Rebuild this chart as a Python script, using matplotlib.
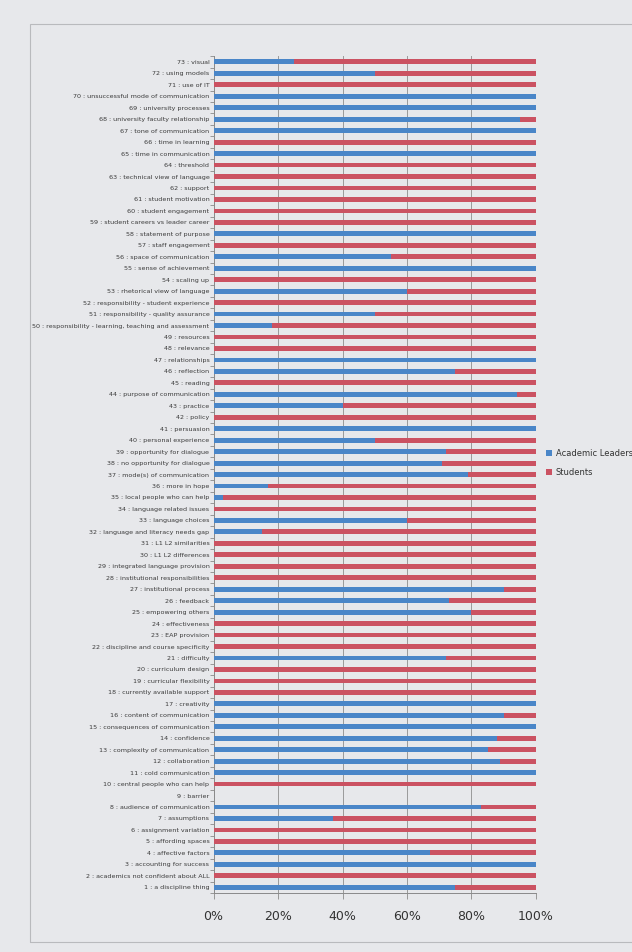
import matplotlib
matplotlib.use("Agg")
import matplotlib.pyplot as plt
from matplotlib.patches import Rectangle
import numpy as np

categories = [
    "1 : a discipline thing",
    "2 : academics not confident about ALL",
    "3 : accounting for success",
    "4 : affective factors",
    "5 : affording spaces",
    "6 : assignment variation",
    "7 : assumptions",
    "8 : audience of communication",
    "9 : barrier",
    "10 : central people who can help",
    "11 : cold communication",
    "12 : collaboration",
    "13 : complexity of communication",
    "14 : confidence",
    "15 : consequences of communication",
    "16 : content of communication",
    "17 : creativity",
    "18 : currently available support",
    "19 : curricular flexibility",
    "20 : curriculum design",
    "21 : difficulty",
    "22 : discipline and course specificity",
    "23 : EAP provision",
    "24 : effectiveness",
    "25 : empowering others",
    "26 : feedback",
    "27 : institutional process",
    "28 : institutional responsibilities",
    "29 : integrated language provision",
    "30 : L1 L2 differences",
    "31 : L1 L2 similarities",
    "32 : language and literacy needs gap",
    "33 : language choices",
    "34 : language related issues",
    "35 : local people who can help",
    "36 : more in hope",
    "37 : mode(s) of communication",
    "38 : no opportunity for dialogue",
    "39 : opportunity for dialogue",
    "40 : personal experience",
    "41 : persuasion",
    "42 : policy",
    "43 : practice",
    "44 : purpose of communication",
    "45 : reading",
    "46 : reflection",
    "47 : relationships",
    "48 : relevance",
    "49 : resources",
    "50 : responsibility - learning, teaching and assessment",
    "51 : responsibility - quality assurance",
    "52 : responsibility - student experience",
    "53 : rhetorical view of language",
    "54 : scaling up",
    "55 : sense of achievement",
    "56 : space of communication",
    "57 : staff engagement",
    "58 : statement of purpose",
    "59 : student careers vs leader career",
    "60 : student engagement",
    "61 : student motivation",
    "62 : support",
    "63 : technical view of language",
    "64 : threshold",
    "65 : time in communication",
    "66 : time in learning",
    "67 : tone of communication",
    "68 : university faculty relationship",
    "69 : university processes",
    "70 : unsuccessful mode of communication",
    "71 : use of IT",
    "72 : using models",
    "73 : visual",
]

# Share of coded references per node (percent)
academic_leaders = [
    75, 0, 100, 67, 0, 0, 37, 83, 0, 0,
    100, 89, 85, 88, 100, 90, 100, 0, 0, 0,
    72, 0, 0, 0, 80, 73, 90, 0, 0, 0,
    0, 15, 60, 0, 3, 17, 79, 71, 72, 50,
    100, 0, 40, 94, 0, 75, 100, 0, 0, 18,
    50, 0, 60, 0, 100, 55, 0, 100, 0, 0,
    0, 0, 0, 0, 100, 0, 100, 95, 100, 100,
    0, 50, 25,
]
students = [
    25, 100, 0, 33, 100, 100, 63, 17, 0, 100,
    0, 11, 15, 12, 0, 10, 0, 100, 100, 100,
    28, 100, 100, 100, 20, 27, 10, 100, 100, 100,
    100, 85, 40, 100, 97, 83, 21, 29, 28, 50,
    0, 100, 60, 6, 100, 25, 0, 100, 100, 82,
    50, 100, 40, 100, 0, 45, 100, 0, 100, 100,
    100, 100, 100, 100, 0, 100, 0, 5, 0, 0,
    100, 50, 75,
]
series_names = ["Academic Leaders", "Students"]
x_ticks = [0, 20, 40, 60, 80, 100]
x_tick_labels = ["0%", "20%", "40%", "60%", "80%", "100%"]

blue = "#4a86c8"
red = "#cb5262"
paper = "#e7e8eb"

fig = plt.figure(figsize=(6.32, 9.52), dpi=100, facecolor=paper)

# chart-area frame printed on the page
fig.patches.append(Rectangle((0.047, 0.01), 0.96, 0.965, transform=fig.transFigure,
                             fill=False, edgecolor="#b9babd", linewidth=0.8))

ax = fig.add_axes([0.338, 0.062, 0.51, 0.879])
ax.set_facecolor(paper)

y = np.arange(len(categories))
ax.barh(y, academic_leaders, height=0.42, color=blue, label=series_names[0], zorder=3)
ax.barh(y, students, left=academic_leaders, height=0.42, color=red,
        label=series_names[1], zorder=3)

ax.set_xlim(0, 100)
ax.set_ylim(-0.5, len(categories) - 0.5)
ax.set_xticks(x_ticks)
ax.set_xticklabels(x_tick_labels, fontsize=9, color="#333333")
ax.set_yticks(y)
ax.set_yticklabels(categories, fontsize=4.6, color="#3a3a3a")
ax.set_yticks(np.arange(-0.5, len(categories), 1), minor=True)

ax.tick_params(axis="y", which="major", length=0, pad=3)
ax.tick_params(axis="y", which="minor", length=3, color="#8a8a8a", width=0.6)
ax.tick_params(axis="x", length=4, color="#8a8a8a", width=0.6, pad=8)

ax.grid(axis="x", color="#9a9a9a", linewidth=0.7, zorder=0)
for side in ("top", "right"):
    ax.spines[side].set_visible(False)
for side in ("left", "bottom"):
    ax.spines[side].set_color("#8a8a8a")
    ax.spines[side].set_linewidth(0.7)

fig.legend(loc="upper left", bbox_to_anchor=(0.862, 0.53), frameon=False,
           fontsize=6, handlelength=0.7, handleheight=0.7, handletextpad=0.4,
           labelspacing=1.2, labelcolor="#333333", borderaxespad=0, borderpad=0.2)

fig.savefig("out.png", dpi=100, facecolor=paper)
